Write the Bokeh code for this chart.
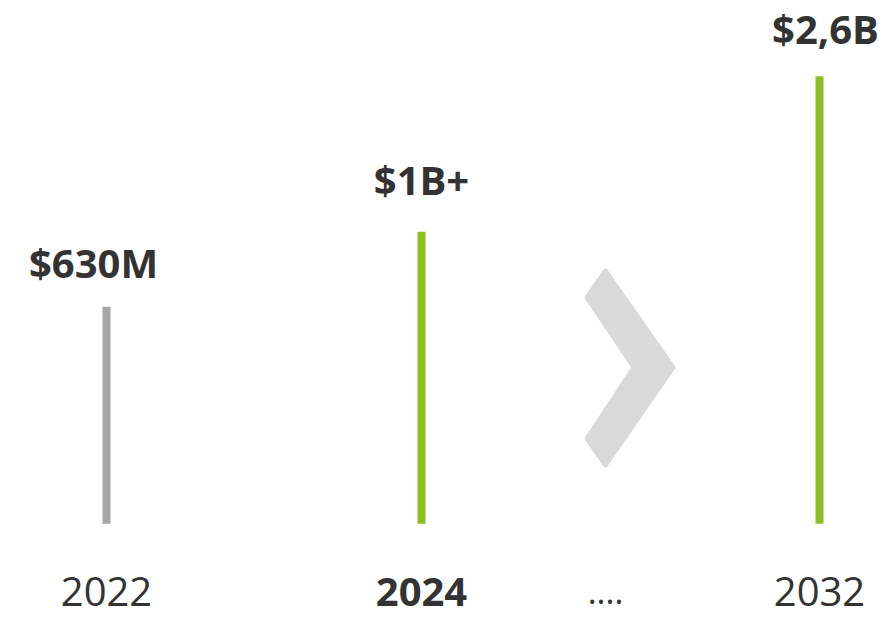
from bokeh.plotting import figure
from bokeh.models import ColumnDataSource, Range1d, LinearScale
from bokeh.core.properties import value
from bokeh.embed import file_html
from bokeh.resources import INLINE

# ---- data ----
years = ["2022", "2024", "2032"]
market_musd = [630, 1000, 2600]          # market size, millions of USD
value_labels = ["$630M", "$1B+", "$2,6B"]
highlight = [False, True, True]
bold_year = [False, True, False]
separator_text = "...."

# ---- layout / style ----
W, H = 894, 620
col_x = [106, 421, 819]                  # column centres (screen px)
label_shift = [-13, 0, 6]
label_lift = [-44, -52, -48]
sep_x = 605
base_value = 166.0                       # visual baseline of the lines
GREY, GREEN, TEXT, CHEV = "#A6A6A6", "#8CBF26", "#333333", "#D9D9D9"
FONT = value("Open Sans")

p = figure(width=W, height=H, output_backend="svg", toolbar_location=None,
           x_range=Range1d(0, W), y_range=Range1d(91.6, 4140),
           y_axis_type="log", min_border=0, background_fill_color="white",
           border_fill_color="white")
p.axis.visible = False
p.grid.visible = False
p.outline_line_color = None

# decorative chevron, drawn in a pixel-space range
p.extra_y_ranges = {"px": Range1d(H, 0)}
p.extra_y_scales = {"px": LinearScale()}
p.patch([605, 673, 605, 586, 633, 586], [270, 367, 465, 438, 367, 297],
        y_range_name="px", fill_color=CHEV, line_color=CHEV, line_width=4,
        line_join="round")

src = ColumnDataSource(dict(
    x=col_x, top=market_musd, bottom=[base_value] * len(years),
    color=[GREEN if h else GREY for h in highlight],
))
p.vbar(x="x", top="top", bottom="bottom", width=8, fill_color="color",
       line_color=None, source=src)

for x, s, v, lab, lift in zip(col_x, label_shift, market_musd, value_labels, label_lift):
    p.text(x=[x + s], y=[v], text=[lab], y_offset=lift,
           text_align="center", text_baseline="alphabetic", text_font=FONT,
           text_font_size="40px", text_font_style="bold", text_color=TEXT)

# year labels along the bottom
ybot = p.y_range.start
for x, yr, b in zip(col_x, years, bold_year):
    p.text(x=[x], y=[ybot], text=[yr], y_offset=-29, text_align="center",
           text_baseline="alphabetic", text_font=FONT, text_font_size="40px",
           text_font_style="bold" if b else "normal", text_color=TEXT)
p.text(x=[sep_x], y=[ybot], text=[separator_text], y_offset=-29,
       text_align="center", text_baseline="alphabetic", text_font=FONT,
       text_font_size="34px", text_color=TEXT)

open("out.html", "w").write(file_html(p, INLINE))
